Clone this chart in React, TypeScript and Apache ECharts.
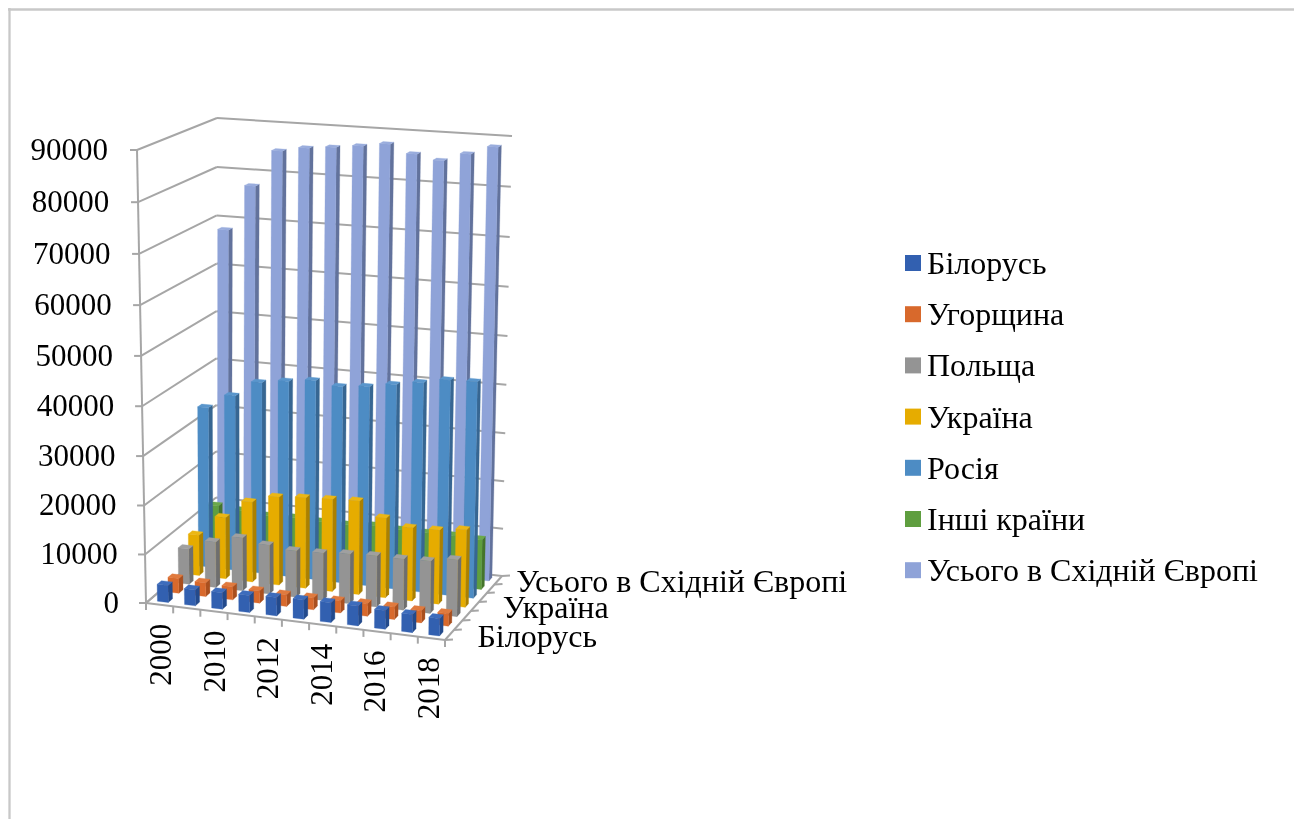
import React, { useEffect, useRef } from "react";
import * as echarts from "echarts";

const categories = ["2000", "2005", "2010", "2011", "2012", "2013", "2014", "2015", "2016", "2017", "2018"];
const axisLabelShown = ["2000", "2010", "2012", "2014", "2016", "2018"];
const yTicks = [0, 10000, 20000, 30000, 40000, 50000, 60000, 70000, 80000, 90000];
const depthLabels = ["Білорусь", "Україна", "Усього в Східній Європі"];

const belarus = [3500, 3300, 3400, 3500, 3750, 3950, 4050, 4050, 3800, 3650, 3500];
const hungary = [3050, 2850, 2700, 2550, 2400, 2450, 2500, 2600, 2600, 2500, 2550];
const poland = [7400, 9500, 11000, 10150, 9600, 9800, 10250, 10500, 10500, 10700, 11600];
const ukraine = [8550, 12900, 16750, 18400, 18850, 19150, 19400, 16500, 15100, 15250, 15900];
const russia = [33700, 36700, 40000, 40800, 41450, 40750, 41250, 42200, 43100, 44150, 44300];
const others = [11400, 11000, 10500, 10700, 10500, 10450, 10900, 10650, 10600, 10650, 10450];
const total = [68000, 77400, 84850, 85800, 86300, 86900, 87650, 86000, 85050, 86700, 88400];

const rows = [
  { name: "Білорусь", values: belarus, front: "#3260b0", side: "#234a8c", top: "#3d6cbc" },
  { name: "Угорщина", values: hungary, front: "#d8692c", side: "#a94f1e", top: "#e07a3e" },
  { name: "Польща", values: poland, front: "#949494", side: "#6e6e6e", top: "#a0a0a0" },
  { name: "Україна", values: ukraine, front: "#e6ac00", side: "#ab8000", top: "#ecb714" },
  { name: "Росія", values: russia, front: "#4d8cc4", side: "#376692", top: "#5a96cc" },
  { name: "Інші країни", values: others, front: "#5f9e3f", side: "#44752c", top: "#6ba94a" },
  { name: "Усього в Східній Європі", values: total, front: "#8fa3d8", side: "#62729c", top: "#9aaddd" },
];

const FONT = "'Liberation Serif', serif";
const GRID = { left: 100, top: 100, width: 400, height: 400 };
const C = {
  flb: [146, 603], frb: [445, 640], blb: [216, 543], brb: [502, 576],
  flt: [137, 150], frt: [451, 175], blt: [217, 118], brt: [512, 136],
};
const GRIDLINE = "#a6a6a6";

function lerp(a: number, b: number, t: number) {
  return a + (b - a) * t;
}
function project(u: number, w: number, h: number): number[] {
  const wp = (w * 1.1) / (1 + 0.1 * w);
  const hp = (h * 0.96) / (1 - 0.04 * h);
  return [0, 1].map((d) => {
    const bottom = lerp(lerp(C.flb[d], C.frb[d], u), lerp(C.blb[d], C.brb[d], u), wp);
    const top = lerp(lerp(C.flt[d], C.frt[d], u), lerp(C.blt[d], C.brt[d], u), wp);
    return lerp(bottom, top, hp);
  });
}
function scaleOf(api: any, cat: number, val: number) {
  const p = api.coord([cat, val]);
  return {
    u: (p[0] - GRID.left) / GRID.width,
    h: (GRID.top + GRID.height - p[1]) / GRID.height,
  };
}

function barRender(k: number, row: (typeof rows)[number]) {
  return (_: any, api: any) => {
    const { u, h } = scaleOf(api, api.value(0), api.value(1));
    const half = (api.size([1, 0])[0] / GRID.width) * 0.2;
    const uL = u - half;
    const uR = u + half;
    const wF = (k + 0.3) / 7;
    const wB = (k + 0.7) / 7;
    const poly = (pts: number[][], fill: string) => ({
      type: "polygon",
      shape: { points: pts },
      style: { fill, stroke: fill, lineWidth: 0.3 },
    });
    return {
      type: "group",
      children: [
        poly([project(uR, wF, 0), project(uR, wB, 0), project(uR, wB, h), project(uR, wF, h)], row.side),
        poly([project(uL, wF, h), project(uR, wF, h), project(uR, wB, h), project(uL, wB, h)], row.top),
        poly([project(uL, wF, 0), project(uR, wF, 0), project(uR, wF, h), project(uL, wF, h)], row.front),
      ],
    };
  };
}

function line(a: number[], b: number[], width = 2) {
  return {
    type: "line",
    shape: { x1: a[0], y1: a[1], x2: b[0], y2: b[1] },
    style: { stroke: GRIDLINE, lineWidth: width },
  };
}
function text(str: string, x: number, y: number, align: string, size: number, extra: any = {}, lineHeight?: number) {
  return {
    type: "text",
    x,
    y,
    ...extra,
    style: {
      text: str,
      font: `${size}px ${FONT}`,
      fill: "#000",
      textAlign: align,
      textVerticalAlign: "middle",
      ...(lineHeight ? { lineHeight } : {}),
    },
  };
}

function wallRender(_: any, api: any) {
  const value = api.value(1);
  const { h } = scaleOf(api, 0, value);
  const a = project(0, 0, h);
  const b = project(0, 1, h);
  const c = project(1, 1, h);
  return {
    type: "group",
    children: [
      line(a, b),
      line(b, c),
      line([a[0] - 7, a[1]], a),
      text(String(value), a[0] - (27 + 2 * h), a[1] - 0.5, "right", 31),
    ],
  };
}

const depthLabelGap = [28, 28, 18];
function floorRender(params: any, api: any) {
  const children: any[] = [];
  if (params.dataIndex === 0) {
    const fl = project(0, 0, 0);
    const fr = project(1, 0, 0);
    const bl = project(0, 1, 0);
    const br = project(1, 1, 0);
    const ft = project(0, 0, 1);
    children.push(line(fl, ft), line(fl, fr), line(fr, br), line(fl, bl));
    for (let n = 0; n <= 7; n++) {
      const p = project(1, n / 7, 0);
      children.push(line(p, [p[0] + 8, p[1] - 0.5]));
    }
    depthLabels.forEach((label, li) => {
      const row = rows.findIndex((r) => r.name === label);
      const p = project(1, (row + 0.5) / 7, 0);
      children.push(text(label, p[0] + depthLabelGap[li], p[1] + 1, "left", 32, {}, 24));
    });
    for (let n = 0; n <= 11; n++) {
      const p = project(n / 11, 0, 0);
      children.push(line(p, [p[0], p[1] + 7]));
    }
  }
  const { u } = scaleOf(api, api.value(0), 0);
  const name = categories[api.value(0)];
  if (axisLabelShown.includes(name)) {
    const p = project(u, 0, 0);
    children.push(text(name, p[0] + 1 - 4 * u, p[1] + 19, "right", 31, { rotation: Math.PI / 2 }));
  }
  return { type: "group", children };
}

export default function App() {
  const ref = useRef<HTMLDivElement>(null);
  useEffect(() => {
    document.body.style.margin = "0";
    const chart = echarts.init(ref.current!, undefined, { renderer: "svg" });
    chart.setOption({
      animation: false,
      backgroundColor: "#fff",
      grid: { ...GRID, containLabel: false },
      xAxis: { type: "category", data: categories, show: false },
      yAxis: { type: "value", min: 0, max: 90000, interval: 10000, show: false },
      legend: {
        orient: "vertical",
        left: 900,
        top: 242,
        itemWidth: 16,
        itemHeight: 16,
        itemGap: 19.2,
        icon: "rect",
        data: rows.map((r) => r.name),
        textStyle: { fontFamily: FONT, fontSize: 32, color: "#000", padding: [0, 0, 0, 1] },
      },
      graphic: [
        { type: "line", shape: { x1: 8, y1: 9.5, x2: 1294, y2: 9.5 }, style: { stroke: "#c8c8c8", lineWidth: 2.3 } },
        { type: "line", shape: { x1: 9.5, y1: 8, x2: 9.5, y2: 819 }, style: { stroke: "#c8c8c8", lineWidth: 2.3 } },
      ],
      series: [
        {
          type: "custom",
          name: "walls",
          coordinateSystem: "cartesian2d",
          renderItem: wallRender,
          data: yTicks.map((t) => [0, t]),
          encode: { x: 0, y: 1 },
          clip: false,
          silent: true,
          z: 1,
        },
        {
          type: "custom",
          name: "floor",
          coordinateSystem: "cartesian2d",
          renderItem: floorRender,
          data: categories.map((_, i) => [i, 0]),
          encode: { x: 0, y: 1 },
          clip: false,
          silent: true,
          z: 1,
        },
        ...rows.map((row, k) => ({
          type: "custom",
          name: row.name,
          coordinateSystem: "cartesian2d",
          renderItem: barRender(k, row),
          data: row.values.map((v, i) => [i, v]),
          encode: { x: 0, y: 1 },
          clip: false,
          itemStyle: { color: row.front },
          z: 10 - k,
        })),
      ],
    });
    return () => chart.dispose();
  }, []);
  return <div ref={ref} style={{ width: 1298, height: 819, filter: "blur(0.5px)" }} />;
}
